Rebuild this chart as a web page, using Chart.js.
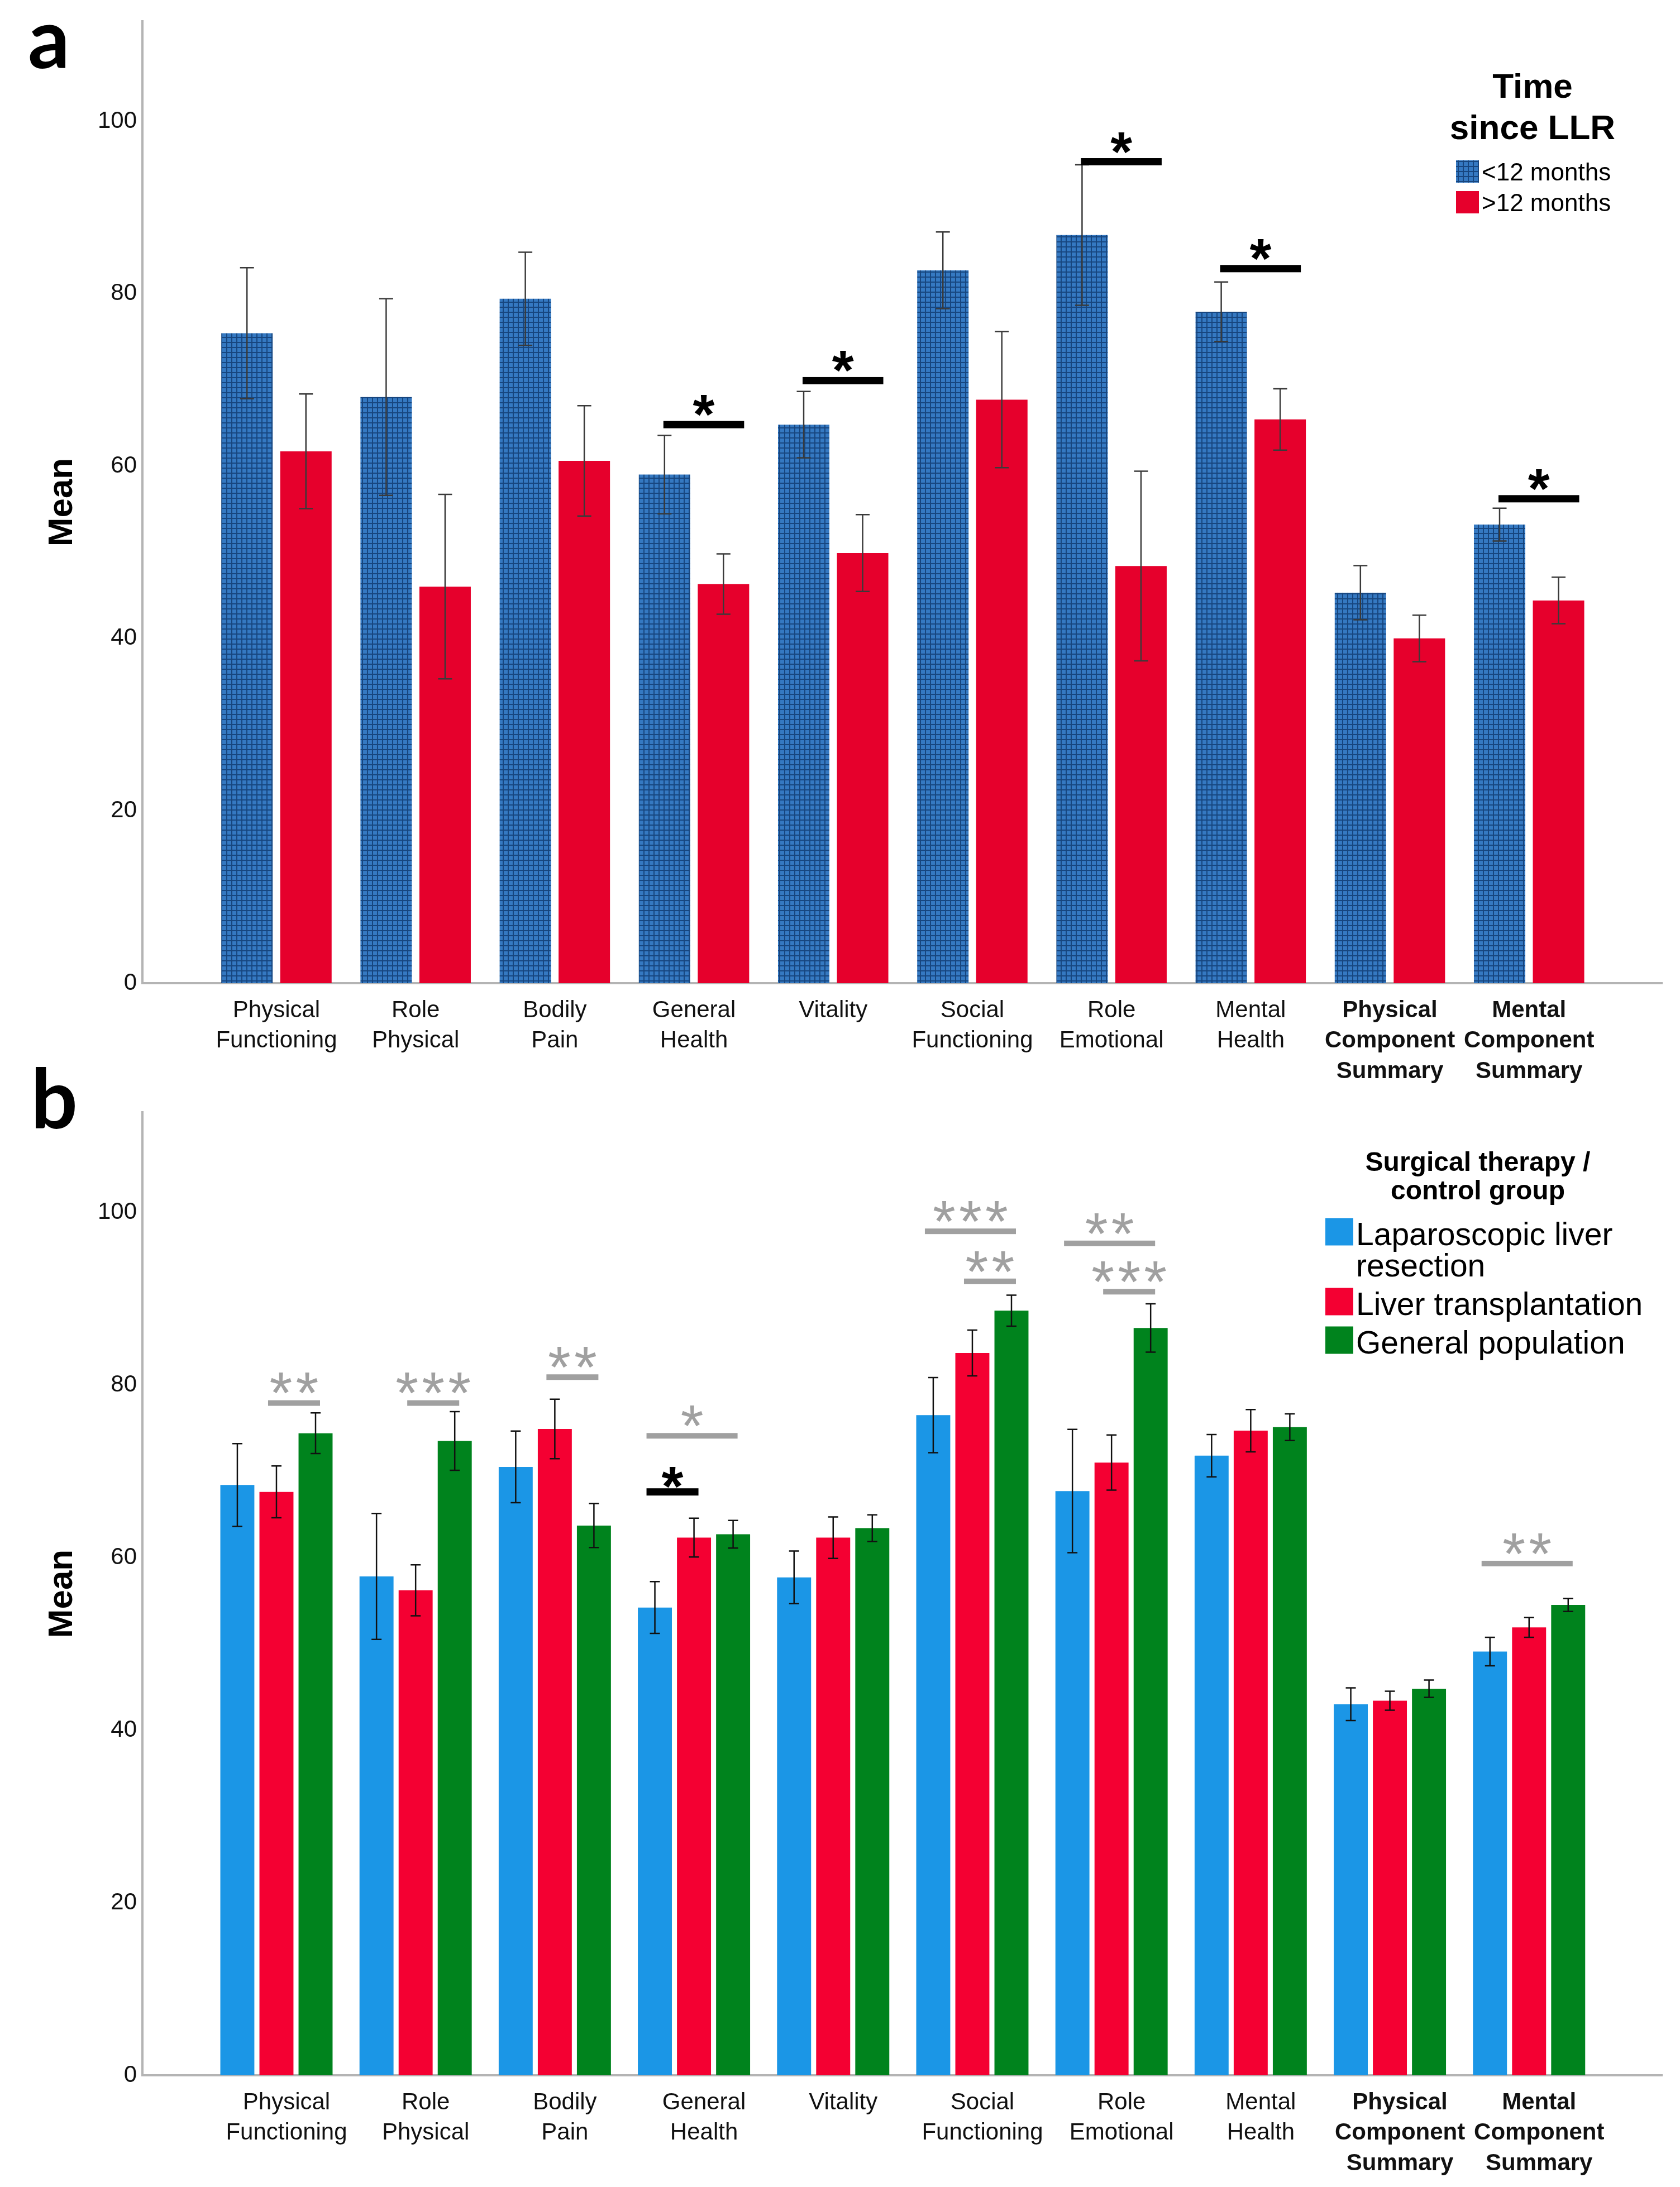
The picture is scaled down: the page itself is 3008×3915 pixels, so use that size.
<!DOCTYPE html>
<html>
<head>
<meta charset="utf-8">
<script src="https://cdn.jsdelivr.net/npm/chart.js@4.4.1/dist/chart.umd.min.js"></script>
<style>
  html, body { margin: 0; padding: 0; background: #fff; }
  #wrap { position: relative; width: 3008px; height: 3915px; }
  canvas { position: absolute; left: 0; }
</style>
</head>
<body>
<div id="wrap">
  <canvas id="chartA" width="3008" height="1960" style="top:0px"></canvas>
  <canvas id="chartB" width="3008" height="2035" style="top:1880px"></canvas>
</div>
<script>
const categories = [
  ["Physical", "Functioning"], ["Role", "Physical"], ["Bodily", "Pain"],
  ["General", "Health"], ["Vitality"], ["Social", "Functioning"],
  ["Role", "Emotional"], ["Mental", "Health"],
  ["Physical", "Component", "Summary"], ["Mental", "Component", "Summary"]
];
const yTicks = [0, 20, 40, 60, 80, 100];

// panel a: time since LLR
const seriesA = [["<12 months"], [">12 months"]];
const meanUnder12 = [75.4, 68.0, 79.4, 59.0, 64.8, 82.7, 86.8, 77.9, 45.3, 53.2];
const ciUnder12   = [7.6, 11.4, 5.4, 4.55, 3.85, 4.45, 8.15, 3.45, 3.15, 1.9];
const meanOver12  = [61.7, 46.0, 60.6, 46.3, 49.9, 67.7, 48.4, 65.4, 40.0, 44.4];
const ciOver12    = [6.65, 10.7, 6.4, 3.5, 4.45, 7.9, 11.0, 3.55, 2.7, 2.7];
const sigA = [
  { cat: 3, from: 0, to: 1, y: 64.8, stars: 1 },
  { cat: 4, from: 0, to: 1, y: 69.9, stars: 1 },
  { cat: 6, from: 0, to: 1, y: 95.3, stars: 1 },
  { cat: 7, from: 0, to: 1, y: 82.9, stars: 1 },
  { cat: 9, from: 0, to: 1, y: 56.2, stars: 1 }
];

// panel b: surgical therapy / control group
const seriesB = [["Laparoscopic liver", "resection"], ["Liver transplantation"], ["General population"]];
const meanLLR = [68.4, 57.8, 70.5, 54.2, 57.7, 76.5, 67.7, 71.8, 43.0, 49.1];
const ciLLR   = [4.8, 7.3, 4.15, 3.0, 3.05, 4.35, 7.15, 2.45, 1.9, 1.65];
const meanLT  = [67.6, 56.2, 74.9, 62.3, 62.3, 83.7, 71.0, 74.7, 43.4, 51.9];
const ciLT    = [3.0, 2.95, 3.45, 2.25, 2.4, 2.65, 3.2, 2.45, 1.1, 1.15];
const meanGP  = [74.4, 73.5, 63.7, 62.7, 63.4, 88.6, 86.6, 75.1, 44.8, 54.5];
const ciGP    = [2.35, 3.4, 2.55, 1.6, 1.55, 1.8, 2.8, 1.55, 1.0, 0.75];
const sigB = [
  { cat: 0, from: 1, to: 2, y: 77.9, stars: 2, gray: true },
  { cat: 1, from: 1, to: 2, y: 77.9, stars: 3, gray: true },
  { cat: 2, from: 1, to: 2, y: 80.9, stars: 2, gray: true },
  { cat: 3, from: 0, to: 2, y: 74.1, stars: 1, gray: true },
  { cat: 3, from: 0, to: 1, y: 67.6, stars: 1, gray: false },
  { cat: 5, from: 0, to: 2, y: 97.8, stars: 3, gray: true },
  { cat: 5, from: 1, to: 2, y: 92.0, stars: 2, gray: true },
  { cat: 6, from: 0, to: 2, y: 96.4, stars: 2, gray: true },
  { cat: 6, from: 1, to: 2, y: 90.8, stars: 3, gray: true },
  { cat: 9, from: 0, to: 2, y: 59.3, stars: 2, gray: true }
];

const FONT = "'Liberation Sans', Arial, sans-serif";
const toPoints = arr => arr.map((v, i) => ({ x: i, y: v }));

function hatch(ctx) {
  const c = document.createElement("canvas");
  c.width = 9; c.height = 9;
  const g = c.getContext("2d");
  g.fillStyle = "#3579c2";
  g.fillRect(0, 0, 9, 9);
  g.fillStyle = "#17467f";
  g.fillRect(0, 0, 9, 2);
  g.fillRect(0, 0, 2, 9);
  return ctx.createPattern(c, "repeat");
}

const errorBars = {
  id: "errorBars",
  afterDatasetsDraw(chart, args, o) {
    const ctx = chart.ctx, ys = chart.scales.y;
    ctx.save();
    ctx.strokeStyle = o.color;
    ctx.lineWidth = o.width;
    chart.data.datasets.forEach((ds, di) => {
      chart.getDatasetMeta(di).data.forEach((bar, i) => {
        const m = ds.data[i].y, e = ds.errors[i];
        const top = ys.getPixelForValue(m + e), bot = ys.getPixelForValue(m - e);
        ctx.beginPath();
        ctx.moveTo(bar.x, top); ctx.lineTo(bar.x, bot);
        ctx.moveTo(bar.x - o.cap, top); ctx.lineTo(bar.x + o.cap, top);
        ctx.moveTo(bar.x - o.cap, bot); ctx.lineTo(bar.x + o.cap, bot);
        ctx.stroke();
      });
    });
    ctx.restore();
  }
};

const sigMarks = {
  id: "sigMarks",
  afterDatasetsDraw(chart, args, o) {
    const ctx = chart.ctx, ys = chart.scales.y;
    ctx.save();
    o.marks.forEach(mk => {
      const b1 = chart.getDatasetMeta(mk.from).data[mk.cat];
      const b2 = chart.getDatasetMeta(mk.to).data[mk.cat];
      const x1 = b1.x - o.padStart, x2 = b2.x + o.padEnd;
      const ly = ys.getPixelForValue(mk.y);
      const th = mk.gray ? o.grayThick : o.thick;
      const size = mk.gray ? o.graySize : o.size;
      const gap = mk.gray ? o.grayGap : o.gap;
      ctx.fillStyle = mk.gray ? o.grayColor : "#000";
      ctx.fillRect(x1, ly - th / 2, x2 - x1, th);
      ctx.font = (mk.gray ? "normal " : "bold ") + size + "px " + FONT;
      ctx.textAlign = "center";
      ctx.textBaseline = "alphabetic";
      const cx = (x1 + x2) / 2, base = ly - gap + 0.56 * size;
      for (let k = 0; k < mk.stars; k++) {
        ctx.fillText("*", cx + (k - (mk.stars - 1) / 2) * o.spacing, base);
      }
    });
    ctx.restore();
  }
};

const panelLegend = {
  id: "panelLegend",
  afterDraw(chart, args, o) {
    const ctx = chart.ctx;
    ctx.save();
    ctx.fillStyle = "#000";
    ctx.textAlign = "center";
    ctx.textBaseline = "middle";
    ctx.font = "bold " + o.titleSize + "px " + FONT;
    o.title.forEach((t, i) => ctx.fillText(t, o.titleX, o.titleY + i * o.titleLine));
    ctx.textAlign = "left";
    ctx.font = o.itemSize + "px " + FONT;
    let y = o.itemY;
    chart.data.datasets.forEach(ds => {
      ctx.fillStyle = ds.backgroundColor;
      ctx.fillRect(o.boxX, y - o.boxShift - o.boxH / 2, o.boxW, o.boxH);
      ctx.fillStyle = "#000";
      ds.legendLines.forEach((t, i) => ctx.fillText(t, o.textX, y + i * o.itemLine));
      y += ds.legendLines.length * o.itemLine + o.itemGap;
    });
    ctx.restore();
  }
};

const panelLetter = {
  id: "panelLetter",
  afterDraw(chart, args, o) {
    const ctx = chart.ctx;
    ctx.save();
    ctx.fillStyle = "#000";
    ctx.font = "bold " + o.size + "px Lato, 'Open Sans', sans-serif";
    ctx.textAlign = "left";
    ctx.textBaseline = "alphabetic";
    ctx.fillText(o.text, o.x, o.y);
    ctx.restore();
  }
};

function scalesFor(labelOffset) {
  return {
    x: {
      type: "linear",
      min: -0.963,
      max: 9.956,
      offset: false,
      afterBuildTicks: s => { s.ticks = categories.map((c, i) => ({ value: i })); },
      afterFit: s => { s.height = 200; },
      grid: { display: false, drawTicks: false },
      border: { display: true, color: "#b4b4b4", width: 4 },
      ticks: {
        autoSkip: false,
        maxRotation: 0,
        padding: 22,
        labelOffset: labelOffset,
        color: "#111",
        callback: v => categories[v],
        font: c => ({ family: FONT, size: 42, lineHeight: 1.3, weight: c.index >= 8 ? "bold" : "normal" })
      }
    },
    y: {
      min: 0,
      max: 111.6,
      afterBuildTicks: s => { s.ticks = yTicks.map(v => ({ value: v })); },
      afterFit: s => { s.width = 255; },
      grid: { display: false, drawTicks: false },
      border: { display: true, color: "#b4b4b4", width: 4 },
      ticks: { padding: 10, color: "#111", font: { family: FONT, size: 42 } },
      title: {
        display: true,
        text: "Mean",
        color: "#000",
        padding: { top: 75, bottom: 0 },
        font: { family: FONT, size: 62, weight: "bold", lineHeight: 1.2 }
      }
    }
  };
}

const ctxA = document.getElementById("chartA").getContext("2d");
const blueHatch = hatch(ctxA);

new Chart(ctxA, {
  type: "bar",
  data: {
    datasets: [
      { label: seriesA[0].join(" "), legendLines: seriesA[0], data: toPoints(meanUnder12), errors: ciUnder12, backgroundColor: blueHatch },
      { label: seriesA[1].join(" "), legendLines: seriesA[1], data: toPoints(meanOver12), errors: ciOver12, backgroundColor: "#e6002c" }
    ]
  },
  options: {
    responsive: false,
    devicePixelRatio: 1,
    animation: false,
    categoryPercentage: 0.847,
    barPercentage: 0.872,
    layout: { padding: { top: 38, right: 32, bottom: 0, left: 0 } },
    scales: scalesFor(0),
    plugins: {
      legend: { display: false },
      tooltip: { enabled: false },
      errorBars: { color: "#3a3a3a", width: 2.5, cap: 12.5 },
      sigMarks: {
        marks: sigA, padStart: 2, padEnd: 37, thick: 13, size: 100, gap: 40, spacing: 47,
        grayThick: 10, graySize: 100, grayGap: 40, grayColor: "#a0a0a0"
      },
      panelLegend: {
        title: ["Time", "since LLR"], titleX: 2744, titleY: 158, titleLine: 74, titleSize: 62,
        itemY: 311, itemLine: 55, itemGap: 0, itemSize: 44,
        boxX: 2607, boxW: 41, boxH: 40, boxShift: 4, textX: 2653
      },
      panelLetter: { text: "a", x: 50, y: 122, size: 148 }
    }
  },
  plugins: [errorBars, sigMarks, panelLegend, panelLetter]
});

const ctxB = document.getElementById("chartB").getContext("2d");

new Chart(ctxB, {
  type: "bar",
  data: {
    datasets: [
      { label: seriesB[0].join(" "), legendLines: seriesB[0], data: toPoints(meanLLR), errors: ciLLR, backgroundColor: "#1b96e6" },
      { label: seriesB[1].join(" "), legendLines: seriesB[1], data: toPoints(meanLT), errors: ciLT, backgroundColor: "#f40032" },
      { label: seriesB[2].join(" "), legendLines: seriesB[2], data: toPoints(meanGP), errors: ciGP, backgroundColor: "#00831d" }
    ]
  },
  options: {
    responsive: false,
    devicePixelRatio: 1,
    animation: false,
    categoryPercentage: 0.843,
    barPercentage: 0.87,
    layout: { padding: { top: 111, right: 32, bottom: 0, left: 0 } },
    scales: scalesFor(18),
    plugins: {
      legend: { display: false },
      tooltip: { enabled: false },
      errorBars: { color: "#111", width: 2.5, cap: 9 },
      sigMarks: {
        marks: sigB, padStart: 15, padEnd: 8, thick: 13, size: 100, gap: 32, spacing: 47,
        grayThick: 10, graySize: 105, grayGap: 40, grayColor: "#a0a0a0"
      },
      panelLegend: {
        title: ["Surgical therapy /", "control group"], titleX: 2646, titleY: 203, titleLine: 51, titleSize: 48,
        itemY: 333, itemLine: 56, itemGap: 13, itemSize: 57,
        boxX: 2373, boxW: 50, boxH: 49, boxShift: 8, textX: 2428
      },
      panelLetter: { text: "b", x: 55, y: 140, size: 148 }
    }
  },
  plugins: [errorBars, sigMarks, panelLegend, panelLetter]
});
</script>
</body>
</html>
